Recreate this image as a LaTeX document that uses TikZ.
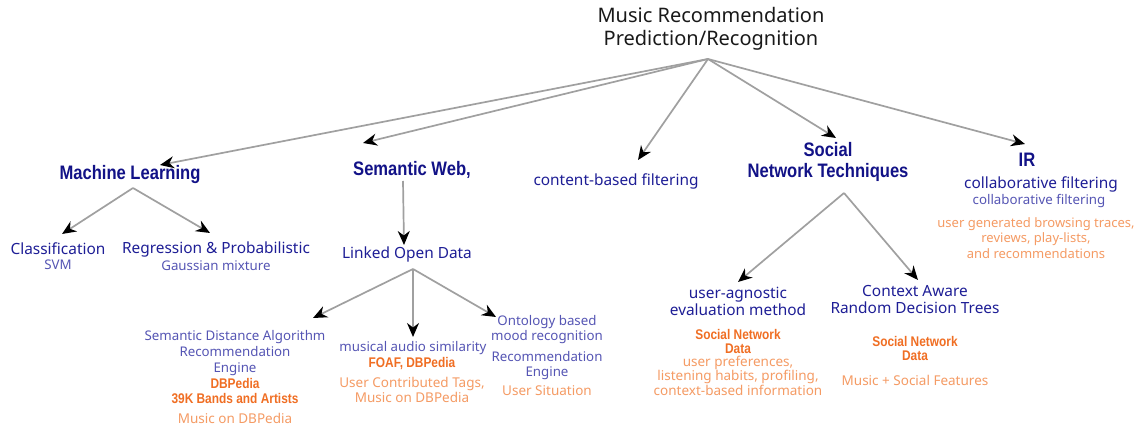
\documentclass[tikz,border=0pt]{standalone}
\usepackage{fontspec}
\setmainfont{Noto Sans}
\newfontfamily\condb{Liberation Sans}[FakeStretch=0.85]
\usetikzlibrary{arrows.meta}
\definecolor{rootc}{RGB}{25,25,25}
\definecolor{navy}{RGB}{18,18,135}
\definecolor{midblue}{RGB}{30,30,150}
\definecolor{lightblue}{RGB}{85,85,180}
\definecolor{orangeb}{RGB}{240,110,35}
\definecolor{orangel}{RGB}{245,155,100}
\definecolor{linegray}{RGB}{160,160,160}
\tikzset{
  every node/.style={inner sep=0pt, align=center},
  head/.style={text=navy, font=\condb\bfseries\fontsize{19.5}{20.5}\selectfont},
  mid/.style={text=midblue, font=\fontsize{15.4}{17}\selectfont},
  light/.style={text=lightblue, font=\fontsize{13.3}{16}\selectfont},
  obold/.style={text=orangeb, font=\condb\bfseries\fontsize{14}{14.5}\selectfont},
  olight/.style={text=orangel, font=\fontsize{13.5}{15}\selectfont},
  arr/.style={draw=linegray, line width=1.7pt, -{Stealth[black, length=14pt, width=12pt, inset=4.5pt]}}
}
\begin{document}
\begin{tikzpicture}[x=1pt, y=-1pt]
\useasboundingbox[fill=white] (0,0) rectangle (1138,430);
% root
\node[text=rootc, font=\fontsize{20}{22.5}\selectfont] (root) at (711,29) {Music Recommendation\\Prediction/Recognition};
% level 1
\node[head] (ml) at (130,175) {Machine Learning};
\node[head] (sw) at (412,170) {Semantic Web,};
\node[mid] (cbf) at (616,181) {content-based filtering};
\node[head] (snt) at (828,162) {Social\\Network Techniques};
\node[head] (ir) at (1027,160) {IR};
\node[mid] (irs1) at (1041,184) {collaborative filtering};
\node[light] (irs2) at (1039,201) {collaborative filtering};
\node[olight, font=\fontsize{13}{15.5}\selectfont] (irs3) at (1036,238) {user generated browsing traces,\\reviews, play-lists,\\and recommendations};
% machine learning children
\node[mid] (cls) at (58,249) {Classification};
\node[light] (svm) at (58,265) {SVM};
\node[mid] (reg) at (216,249) {Regression \& Probabilistic};
\node[light] (gau) at (216,266) {Gaussian mixture};
% semantic web children
\node[mid] (lod) at (407,254) {Linked Open Data};
\node[light] (sda) at (235,353) {Semantic Distance Algorithm\\Recommendation\\Engine};
\node[obold, font=\condb\bfseries\fontsize{14}{15}\selectfont] (dbp) at (235,391.5) {DBPedia\\39K Bands and Artists};
\node[olight] (mod) at (235,418) {Music on DBPedia};
\node[light] (mas) at (413,348) {musical audio similarity};
\node[obold] (foaf) at (412,364) {FOAF, DBPedia};
\node[olight] (uct) at (412,389.5) {User Contributed Tags,\\Music on DBPedia};
\node[light, font=\fontsize{13.3}{15}\selectfont] (ont) at (547,329.5) {Ontology based\\mood recognition};
\node[light, font=\fontsize{13.3}{15}\selectfont] (re2) at (547,365.5) {Recommendation\\Engine};
\node[olight] (us) at (547,391) {User Situation};
% social network children
\node[mid] (ua) at (738,301.5) {user-agnostic\\evaluation method};
\node[obold, font=\condb\bfseries\fontsize{14}{14}\selectfont] (snd1) at (738,341) {Social Network\\Data};
\node[olight, font=\fontsize{13.5}{14.5}\selectfont] (upr) at (738,375.5) {user preferences,\\listening habits, profiling,\\context-based information};
\node[mid] (ca) at (915,299.5) {Context Aware\\Random Decision Trees};
\node[obold, font=\condb\bfseries\fontsize{14}{14}\selectfont] (snd2) at (915,348) {Social Network\\Data};
\node[olight] (msf) at (915,380) {Music + Social Features};
% connector end points
\coordinate (rootO) at (708,59);
\coordinate (mlT) at (160,165);
\coordinate (swT) at (363,143);
\coordinate (cbfT) at (638,160);
\coordinate (sntT) at (836,138);
\coordinate (irT) at (1025,144);
\coordinate (mlO) at (133,188);
\coordinate (clsT) at (62,234);
\coordinate (regT) at (210,233);
\coordinate (swO) at (403,181);
\coordinate (lodT) at (404,245);
\coordinate (lodO) at (413,269);
\coordinate (sdaT) at (313,318);
\coordinate (masT) at (413,337);
\coordinate (ontT) at (496,317);
\coordinate (sntO) at (844,193);
\coordinate (uaT) at (738,282);
\coordinate (caT) at (918,280);
% connectors
\draw[arr] (rootO) -- (mlT);
\draw[arr] (rootO) -- (swT);
\draw[arr] (rootO) -- (cbfT);
\draw[arr] (rootO) -- (sntT);
\draw[arr] (rootO) -- (irT);
\draw[arr] (mlO) -- (clsT);
\draw[arr] (mlO) -- (regT);
\draw[arr] (swO) -- (lodT);
\draw[arr] (lodO) -- (sdaT);
\draw[arr] (lodO) -- (masT);
\draw[arr] (lodO) -- (ontT);
\draw[arr] (sntO) -- (uaT);
\draw[arr] (sntO) -- (caT);
\end{tikzpicture}
\end{document}
